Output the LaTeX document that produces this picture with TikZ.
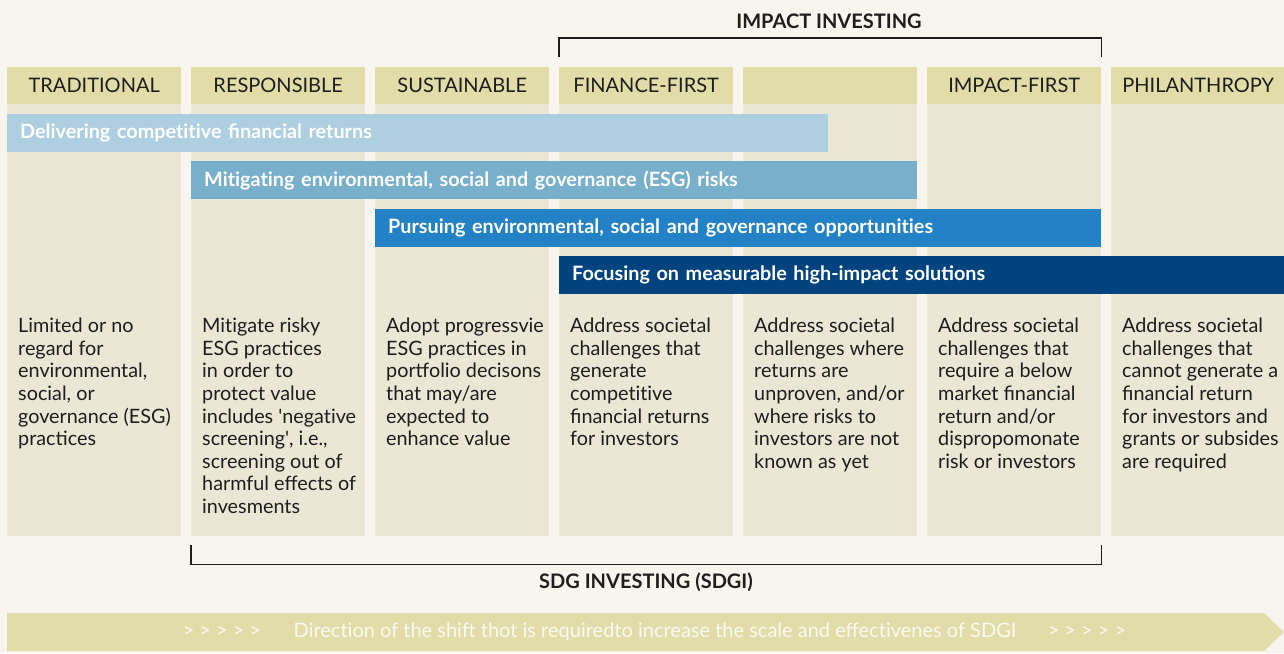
\documentclass[tikz,border=0pt]{standalone}
\usepackage{fontspec}
\setmainfont{Lato}
\usetikzlibrary{positioning}
\definecolor{bgcream}{HTML}{F8F5EE}
\definecolor{headtan}{HTML}{E2DCA9}
\definecolor{bodytan}{HTML}{EAE7D5}
\definecolor{barlight}{HTML}{AECFE0}
\definecolor{barmid}{HTML}{78AFCB}
\definecolor{barblue}{HTML}{2381C5}
\definecolor{bardark}{HTML}{00437F}
\definecolor{shifttext}{HTML}{FBFAF2}
\definecolor{inktext}{HTML}{1E1E1E}
\newcommand{\tiplain}{t\kern0pt i}
\tikzset{
    colhead/.style={fill=headtan, anchor=north west, minimum width=174pt, minimum height=37pt, inner sep=0pt, text=inktext, font=\fontsize{20}{22}\selectfont},
    colbody/.style={fill=bodytan, anchor=north west, minimum width=174pt, minimum height=432pt, inner sep=0pt},
    coltext/.style={anchor=north west, align=left, inner sep=0pt, text=inktext, font=\fontsize{19.8}{22.6}\selectfont},
    goalbar/.style={anchor=north west, minimum height=38pt, inner ysep=0pt, inner xsep=13pt, align=left, text=white, font=\bfseries\fontsize{19.8}{22}\selectfont},
    bracketline/.style={line width=1.3pt, inktext},
    bracketlabel/.style={inner sep=0pt, text=inktext, font=\bfseries\fontsize{20}{22}\selectfont},
    shiftlabel/.style={inner sep=0pt, text=shifttext, font=\fontsize{20}{22}\selectfont}
}
\begin{document}
\begin{tikzpicture}[x=1pt, y=-1pt]
    \fill[bgcream] (0,0) rectangle (1284,653);
    \useasboundingbox (0,0) rectangle (1284,653);
    \foreach \i/\title in {0/TRADITIONAL, 1/RESPONSIBLE, 2/SUSTAINABLE, 3/FINANCE-FIRST, 4/{}, 5/IMPACT-FIRST, 6/PHILANTHROPY}
    {
        \node[colbody] (body\i) at (7+184*\i,104) {};
        \node[colhead] (head\i) at (7+184*\i,67) {\title};
    }
    \node[goalbar, fill=barlight, text width=795pt] (returns) at (7,114) {Delivering compe\tiplain\tiplain ve financial returns};
    \node[goalbar, fill=barmid, text width=700pt] (risks) at (191,161) {Mi\tiplain ga\tiplain ng environmental, social and governance (ESG) risks};
    \node[goalbar, fill=barblue, text width=700pt] (chances) at (375,209) {Pursuing environmental, social and governance opportuni\tiplain es};
    \node[goalbar, fill=bardark, text width=699pt] (solutions) at (559,256) {Focusing on measurable high-impact solutions};
    \node[coltext] (text0) at (18,318) {Limited or no\\regard for\\environmental,\\social, or\\governance (ESG)\\practices};
    \node[coltext] (text1) at (202,318) {Mi\tiplain gate risky\\ESG practices\\in order to\\protect value\\includes \textquotesingle nega\tiplain ve\\screening\textquotesingle, i.e.,\\screening out of\\harmful effects of\\invesments};
    \node[coltext] (text2) at (386,318) {Adopt progressvie\\ESG practices in\\portfolio decisons\\that may/are\\expected to\\enhance value};
    \node[coltext] (text3) at (570,318) {Address societal\\challenges that\\generate\\compe\tiplain\tiplain ve\\financial returns\\for investors};
    \node[coltext] (text4) at (754,318) {Address societal\\challenges where\\returns are\\unproven, and/or\\where risks to\\investors are not\\known as yet};
    \node[coltext] (text5) at (938,318) {Address societal\\challenges that\\require a below\\market financial\\return and/or\\dispropomonate\\risk or investors};
    \node[coltext] (text6) at (1122,318) {Address societal\\challenges that\\cannot generate a\\financial return\\for investors and\\grants or subsides\\are required};
    \draw[bracketline] ([yshift=10pt]head3.north west) -- ++(0,-19) -| ([yshift=10pt]head5.north east);
    \node[bracketlabel] (impact) at (829,21) {IMPACT INVESTING};
    \draw[bracketline] ([yshift=-9pt]body1.south west) -- ++(0,19) -| ([yshift=-9pt]body5.south east);
    \node[bracketlabel] (sdgi) at (646,582) {SDG INVESTING (SDGI)};
    \fill[headtan] (7,613) -- (1264,613) -- (1284,632) -- (1264,651) -- (7,651) -- cycle;
    \node[shiftlabel] (arrowsin) at (222,632) {> > > > >};
    \node[shiftlabel] (shift) at (655,632) {Direc\tiplain on of the shift thot is requiredto increase the scale and effec\tiplain venes of SDGI};
    \node[shiftlabel] (arrowsout) at (1087,632) {> > > > >};
\end{tikzpicture}
\end{document}
